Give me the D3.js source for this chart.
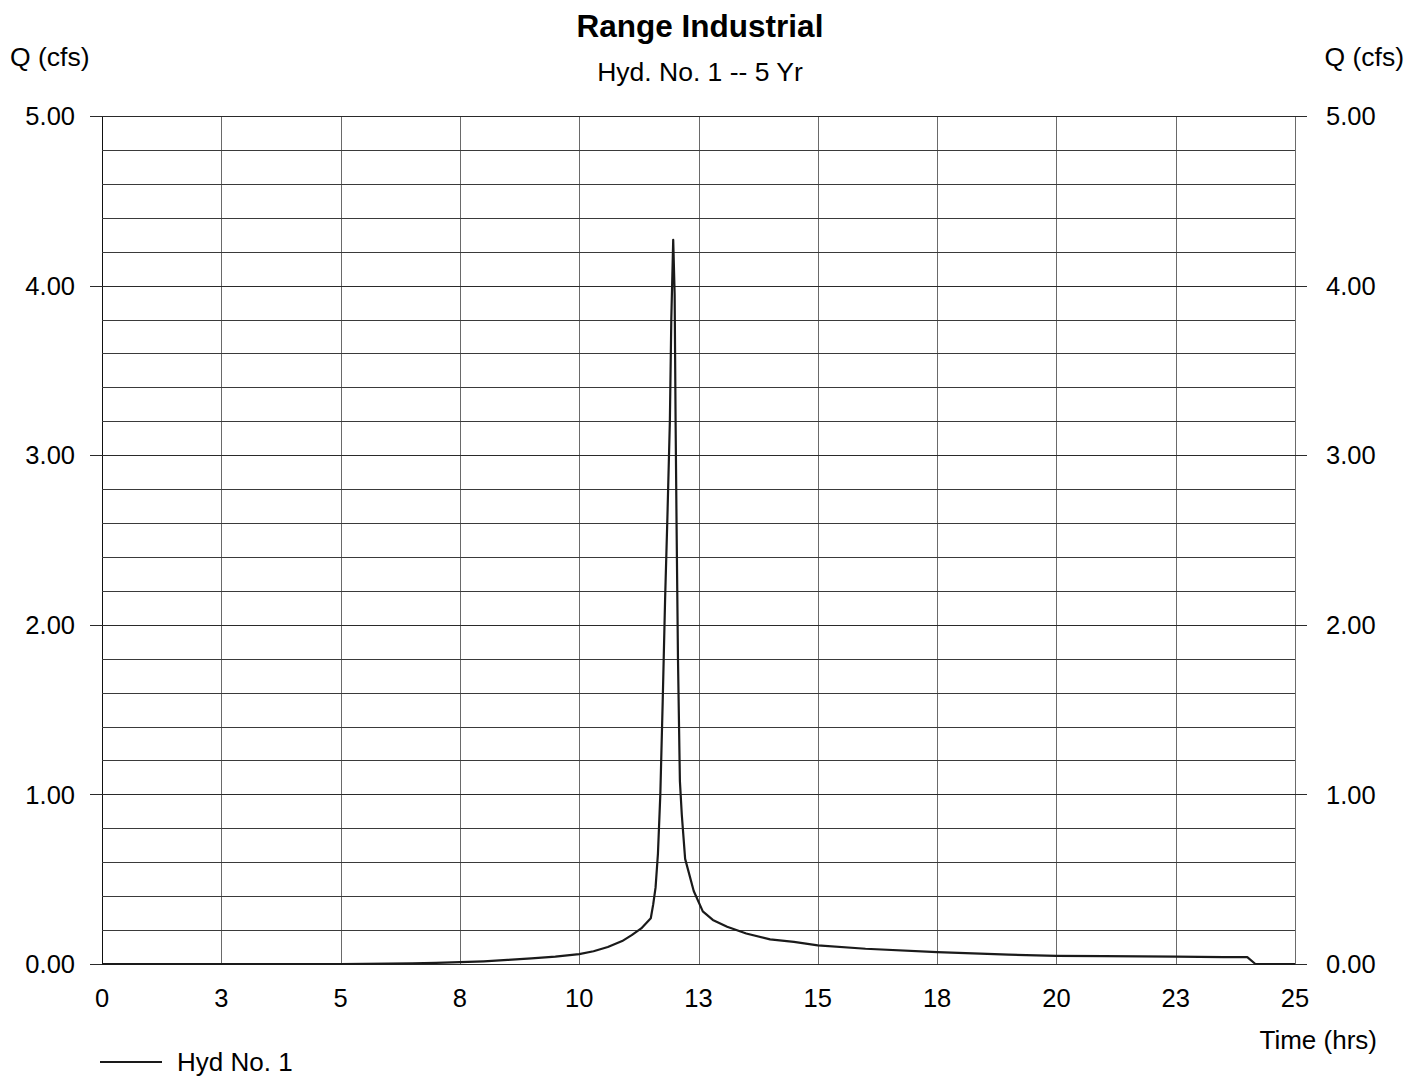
<!DOCTYPE html>
<html>
<head>
<meta charset="utf-8">
<script src="https://cdn.jsdelivr.net/npm/d3@7"></script>
<style>
  html, body { margin: 0; padding: 0; background: #fff; }
  svg { display: block; font-family: "Liberation Sans", Arial, sans-serif; }
</style>
</head>
<body>
<svg id="chart" width="1410" height="1076"></svg>
<script>
// Hydrograph ordinates: time (hrs) and discharge (cfs)
const timeHrs = [
  0, 1, 2, 3, 4, 5, 6, 6.5, 7, 7.5, 8, 8.5, 9, 9.5, 10, 10.3, 10.6, 10.9,
  11.1, 11.3, 11.5, 11.55, 11.6, 11.65, 11.7, 11.75, 11.8, 11.85, 11.9, 11.93,
  11.97, 12.0, 12.02, 12.04, 12.07, 12.11, 12.15, 12.22, 12.4, 12.59, 12.8,
  13.1, 13.5, 14.0, 14.5, 15.0, 16.0, 17.5, 19.0, 20.0, 21.0, 22.5, 23.5,
  24.0, 24.17, 25.0
];
const flowCfs = [
  0, 0, 0, 0, 0, 0, 0.002, 0.004, 0.007, 0.011, 0.016, 0.024, 0.033, 0.043,
  0.058, 0.075, 0.10, 0.135, 0.17, 0.21, 0.27, 0.35, 0.45, 0.65, 1.00, 1.55,
  2.15, 2.65, 3.20, 3.80, 4.27, 3.95, 3.20, 2.60, 1.80, 1.08, 0.88, 0.62,
  0.43, 0.31, 0.26, 0.22, 0.18, 0.145, 0.13, 0.11, 0.09, 0.07, 0.055, 0.048,
  0.046, 0.043, 0.041, 0.04, 0, 0
];

// Axis ticks
const xTickValues = [0, 2.5, 5, 7.5, 10, 12.5, 15, 17.5, 20, 22.5, 25];
const xTickLabels = ["0", "3", "5", "8", "10", "13", "15", "18", "20", "23", "25"];
const yMajorTicks = [0, 1, 2, 3, 4, 5];
const yMinorTicks = [0.2, 0.4, 0.6, 0.8, 1.2, 1.4, 1.6, 1.8, 2.2, 2.4, 2.6, 2.8,
                     3.2, 3.4, 3.6, 3.8, 4.2, 4.4, 4.6, 4.8];

const titleText = "Range Industrial";
const subtitleText = "Hyd. No. 1 -- 5 Yr";
const yAxisTitle = "Q (cfs)";
const xAxisTitle = "Time (hrs)";
const seriesName = "Hyd No. 1";

const svg = d3.select("#chart");
const plot = { left: 102, right: 1295, top: 116, bottom: 964 };

const x = d3.scaleLinear().domain([0, 25]).range([plot.left, plot.right]);
const y = d3.scaleLinear().domain([0, 5]).range([plot.bottom, plot.top]);

// Vertical grid lines
svg.append("g").selectAll("line").data(xTickValues).join("line")
  .attr("x1", d => Math.round(x(d)) + 0.5).attr("x2", d => Math.round(x(d)) + 0.5)
  .attr("y1", plot.top).attr("y2", plot.bottom)
  .attr("stroke", d => (d === 0 ? "#111" : "#6a6a6a"))
  .attr("stroke-width", 1);

// Minor horizontal grid lines
svg.append("g").selectAll("line").data(yMinorTicks).join("line")
  .attr("x1", plot.left).attr("x2", plot.right)
  .attr("y1", d => Math.round(y(d)) + 0.5).attr("y2", d => Math.round(y(d)) + 0.5)
  .attr("stroke", "#3a3a3a").attr("stroke-width", 1);

// Major horizontal lines, extended as ticks on both sides
svg.append("g").selectAll("line").data(yMajorTicks).join("line")
  .attr("x1", plot.left - 12).attr("x2", plot.right + 12)
  .attr("y1", d => Math.round(y(d)) + 0.5).attr("y2", d => Math.round(y(d)) + 0.5)
  .attr("stroke", "#2a2a2a").attr("stroke-width", 1);

// Left axis labels
svg.append("g").selectAll("text").data(yMajorTicks).join("text")
  .attr("x", 75).attr("y", d => y(d)).attr("dy", "0.36em")
  .attr("text-anchor", "end").attr("font-size", 25.5).attr("fill", "#000")
  .text(d => d3.format(".2f")(d));

// Right axis labels
svg.append("g").selectAll("text").data(yMajorTicks).join("text")
  .attr("x", 1326).attr("y", d => y(d)).attr("dy", "0.36em")
  .attr("text-anchor", "start").attr("font-size", 25.5).attr("fill", "#000")
  .text(d => d3.format(".2f")(d));

// Bottom axis labels
svg.append("g").selectAll("text").data(xTickValues).join("text")
  .attr("x", d => x(d)).attr("y", 1007)
  .attr("text-anchor", "middle").attr("font-size", 25.5).attr("fill", "#000")
  .text((d, i) => xTickLabels[i]);

// Hydrograph line
const line = d3.line().x((d, i) => x(timeHrs[i])).y(d => y(d));
svg.append("path").datum(flowCfs)
  .attr("d", line).attr("fill", "none")
  .attr("stroke", "#1a1a1a").attr("stroke-width", 2.2)
  .attr("stroke-linejoin", "round");

// Titles
svg.append("text").attr("x", 700).attr("y", 37).attr("text-anchor", "middle")
  .attr("font-size", 31.5).attr("font-weight", "bold").text(titleText);
svg.append("text").attr("x", 700).attr("y", 81).attr("text-anchor", "middle")
  .attr("font-size", 26.5).text(subtitleText);
svg.append("text").attr("x", 10).attr("y", 66).attr("font-size", 26.5).text(yAxisTitle);
svg.append("text").attr("x", 1404).attr("y", 66).attr("text-anchor", "end")
  .attr("font-size", 26.5).text(yAxisTitle);
svg.append("text").attr("x", 1377).attr("y", 1049).attr("text-anchor", "end")
  .attr("font-size", 26).text(xAxisTitle);

// Legend
svg.append("line").attr("x1", 100).attr("x2", 162).attr("y1", 1062).attr("y2", 1062)
  .attr("stroke", "#1a1a1a").attr("stroke-width", 2);
svg.append("text").attr("x", 177).attr("y", 1071).attr("font-size", 26).text(seriesName);
</script>
</body>
</html>
